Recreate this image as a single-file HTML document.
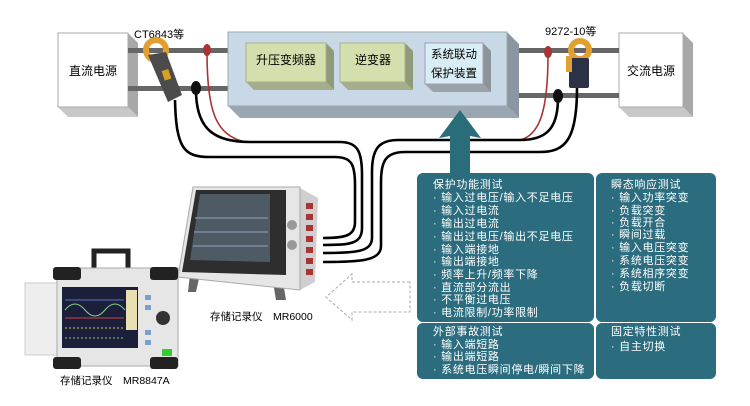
<!DOCTYPE html>
<html><head><meta charset="utf-8"><style>
body{margin:0;background:#fff;}
svg{display:block;}
text{font-family:"Liberation Sans","Noto Sans CJK SC",sans-serif;}
.tl{letter-spacing:0.7px;}
</style></head><body>
<svg width="750" height="406" viewBox="0 0 750 406" xmlns="http://www.w3.org/2000/svg">
<!-- DC source -->
<polygon points="128,33 138,43 138,117 128,107" fill="#a8a8a8"/>
<polygon points="58,107 128,107 138,117 68,117" fill="#c8c8c8"/>
<rect x="58" y="33" width="70" height="74" fill="#fff" stroke="#aaa"/>
<text x="93" y="75" font-size="12" text-anchor="middle">直流电源</text>
<!-- AC source -->
<polygon points="683,33 693,43 693,117 683,107" fill="#a8a8a8"/>
<polygon points="619,107 683,107 693,117 629,117" fill="#c8c8c8"/>
<rect x="619" y="33" width="64" height="74" fill="#fff" stroke="#aaa"/>
<text x="651" y="75" font-size="12" text-anchor="middle">交流电源</text>
<!-- bars -->
<rect x="128" y="48" width="102" height="5" fill="#666"/>
<rect x="128" y="86" width="102" height="5" fill="#666"/>
<rect x="515" y="48" width="104" height="5" fill="#666"/>
<rect x="515" y="93" width="104" height="5" fill="#666"/>
<!-- main box -->
<polygon points="507,32 519,44 519,118 507,106" fill="#8a97a3"/>
<polygon points="228,106 507,106 519,118 240,118" fill="#9aa6b1"/>
<rect x="228" y="32" width="279" height="74" fill="#c9d8e6" stroke="#9aa"/>
<!-- inner boxes -->
<polygon points="326,43 334,51 334,90 326,82" fill="#8f9a78"/>
<polygon points="246,82 326,82 334,90 254,90" fill="#a4ad8c"/>
<rect x="246" y="43" width="80" height="39" fill="#d4dfae" stroke="#aab08a"/>
<text x="286" y="64" font-size="12" text-anchor="middle">升压变频器</text>
<polygon points="405,43 413,51 413,90 405,82" fill="#8f9a78"/>
<polygon points="340,82 405,82 413,90 348,90" fill="#a4ad8c"/>
<rect x="340" y="43" width="65" height="39" fill="#d4dfae" stroke="#aab08a"/>
<text x="373" y="64" font-size="12" text-anchor="middle">逆变器</text>
<polygon points="483,43 491,51 491,92 483,84" fill="#8a9499"/>
<polygon points="425,84 483,84 491,92 433,92" fill="#9aa3a8"/>
<rect x="425" y="43" width="58" height="41" fill="#d9eef4" stroke="#a9b"/>
<text x="454" y="58" font-size="11.5" text-anchor="middle">系统联动</text>
<text x="454" y="77" font-size="11.5" text-anchor="middle">保护装置</text>
<!-- labels -->
<text x="134" y="38" font-size="11">CT6843等</text>
<text x="545" y="35" font-size="11">9272-10等</text>
<!-- red wires -->
<path d="M207,52 C207,110 215,135 245,142" fill="none" stroke="#a33" stroke-width="1.6"/>
<path d="M548,54 C548,110 540,135 520,140" fill="none" stroke="#a33" stroke-width="1.6"/>
<!-- cables -->
<g fill="none" stroke="#000" stroke-width="2.6">
<path d="M175,100 C176,150 185,157 210,157 L335,157 C352,157 355,165 355,185 L355,222 C355,236 345,238 323,238"/>
<path d="M196,90 C196,130 215,142 250,142 L340,142 C358,142 362,152 362,175 L362,228 C362,244 350,245 323,245"/>
<path d="M558,98 C558,130 545,140 520,140 L398,140 C378,140 372,150 372,172 L372,238 C372,252 355,253 323,253"/>
<path d="M577,88 C577,140 565,152 540,152 L405,152 C385,152 381,162 381,182 L381,246 C381,261 360,262 323,262"/>
</g>
<ellipse cx="207" cy="50" rx="4" ry="6" fill="#a33"/>
<ellipse cx="548" cy="52" rx="4" ry="6" fill="#a33"/>
<ellipse cx="196" cy="88" rx="5" ry="7" fill="#111"/>
<ellipse cx="558" cy="96" rx="5" ry="7" fill="#111"/>
<!-- clamps -->
<circle cx="156" cy="50" r="10" fill="none" stroke="#e2a030" stroke-width="6"/>
<polygon points="148,55 166,52 182,95 168,102" fill="#4b4b4b"/>
<rect x="163" y="70" width="7" height="10" fill="#d8a020" transform="rotate(-18 166 75)"/>
<circle cx="580" cy="50" r="9" fill="none" stroke="#e2a030" stroke-width="6"/>
<rect x="569" y="58" width="20" height="30" fill="#2c3245" rx="2"/>
<rect x="566" y="56" width="6" height="16" fill="#e2a030"/>
<!-- big arrow -->
<polygon points="460,110 481,138 470,136 470,175 450,175 450,136 439,138" fill="#296d7b"/>
<!-- dashed arrow -->
<polygon points="410,282 352,282 352,274 326,297 352,320 352,312 410,312" fill="#fff" stroke="#aaa" stroke-dasharray="3,2"/>
<!-- teal boxes -->
<g fill="#2b6c7e">
<rect x="417" y="173" width="177" height="149" rx="6"/>
<rect x="596" y="173" width="120" height="149" rx="6"/>
<rect x="417" y="323" width="177" height="56" rx="6"/>
<rect x="596" y="323" width="120" height="56" rx="6"/>
</g>
<g fill="#fff" font-size="11" class="tl">
<text x="433" y="188">保护功能测试</text>
<text x="433" y="201">· 输入过电压/输入不足电压</text>
<text x="433" y="214">· 输入过电流</text>
<text x="433" y="227">· 输出过电流</text>
<text x="433" y="240">· 输出过电压/输出不足电压</text>
<text x="433" y="253">· 输入端接地</text>
<text x="433" y="265">· 输出端接地</text>
<text x="433" y="278">· 频率上升/频率下降</text>
<text x="433" y="291">· 直流部分流出</text>
<text x="433" y="303">· 不平衡过电压</text>
<text x="433" y="316">· 电流限制/功率限制</text>
<text x="611" y="188">瞬态响应测试</text>
<text x="611" y="201">· 输入功率突变</text>
<text x="611" y="214">· 负载突变</text>
<text x="611" y="226">· 负载开合</text>
<text x="611" y="238">· 瞬间过载</text>
<text x="611" y="251">· 输入电压突变</text>
<text x="611" y="264">· 系统电压突变</text>
<text x="611" y="277">· 系统相序突变</text>
<text x="611" y="290">· 负载切断</text>
<text x="433" y="335">外部事故测试</text>
<text x="433" y="348">· 输入端短路</text>
<text x="433" y="360">· 输出端短路</text>
<text x="433" y="373">· 系统电压瞬间停电/瞬间下降</text>
<text x="611" y="335">固定特性测试</text>
<text x="611" y="350">· 自主切换</text>
</g>
<!-- MR6000 -->
<polygon points="190,274 200,274 196,292 188,292" fill="#666"/>
<polygon points="272,276 282,276 286,300 276,300" fill="#666"/>
<polygon points="300,188 318,198 315,282 300,290" fill="#cfcfcf"/>
<polygon points="193,187 300,187 300,290 178,277" fill="#e6e6e6" stroke="#aaa"/>
<polygon points="196,190 286,190 286,275 182,272" fill="#2e2e2e"/>
<polygon points="200,194 270,194 270,262 190,260" fill="#4e5a64"/>
<g stroke="#7a8aa0" stroke-width="1.5"><line x1="195" y1="218" x2="268" y2="218"/><line x1="194" y1="232" x2="268" y2="232"/><line x1="193" y1="246" x2="268" y2="246"/></g>
<circle cx="292" cy="225" r="5" fill="#999"/><circle cx="292" cy="245" r="5" fill="#999"/>
<g fill="#a33"><rect x="306" y="203" width="7" height="6"/><rect x="306" y="214" width="7" height="6"/><rect x="306" y="225" width="7" height="6"/><rect x="306" y="236" width="7" height="6"/><rect x="306" y="247" width="7" height="6"/><rect x="306" y="258" width="7" height="6"/><rect x="306" y="269" width="7" height="6"/></g>
<text x="210" y="320" font-size="10.5">存储记录仪　MR6000</text>
<!-- MR8847A -->
<rect x="25" y="283" width="33" height="72" fill="#eee" stroke="#ccc"/>
<path d="M94,282 L94,251 L128,251 L128,282" fill="none" stroke="#222" stroke-width="5"/>
<rect x="57" y="268" width="121" height="98" fill="#e6e6e6" stroke="#aaa"/>
<rect x="53" y="267" width="28" height="13" fill="#222" rx="3"/>
<rect x="150" y="267" width="28" height="13" fill="#222" rx="3"/>
<rect x="53" y="357" width="28" height="12" fill="#222" rx="3"/>
<rect x="150" y="357" width="28" height="12" fill="#222" rx="3"/>
<rect x="62" y="287" width="76" height="61" fill="#1b1f3a"/>
<rect x="126" y="290" width="11" height="40" fill="#e8e0b0"/>
<path d="M65,310 Q75,298 85,310 T105,310 T125,310" stroke="#8c8" fill="none"/>
<line x1="65" y1="300" x2="124" y2="300" stroke="#57c"/>
<line x1="65" y1="318" x2="124" y2="318" stroke="#c44"/>
<line x1="65" y1="328" x2="124" y2="328" stroke="#cc5" stroke-dasharray="2,2"/>
<line x1="65" y1="338" x2="124" y2="338" stroke="#7c7" stroke-dasharray="2,2"/>
<circle cx="163" cy="318" r="7" fill="#333"/>
<g fill="#7aa0d0"><rect x="145" y="295" width="6" height="5"/><rect x="145" y="305" width="6" height="5"/><rect x="145" y="330" width="6" height="5"/><rect x="145" y="340" width="6" height="5"/></g>
<rect x="162" y="349" width="10" height="7" fill="#3c3"/>
<text x="60" y="384" font-size="10.5">存储记录仪　MR8847A</text>
</svg>
</body></html>
